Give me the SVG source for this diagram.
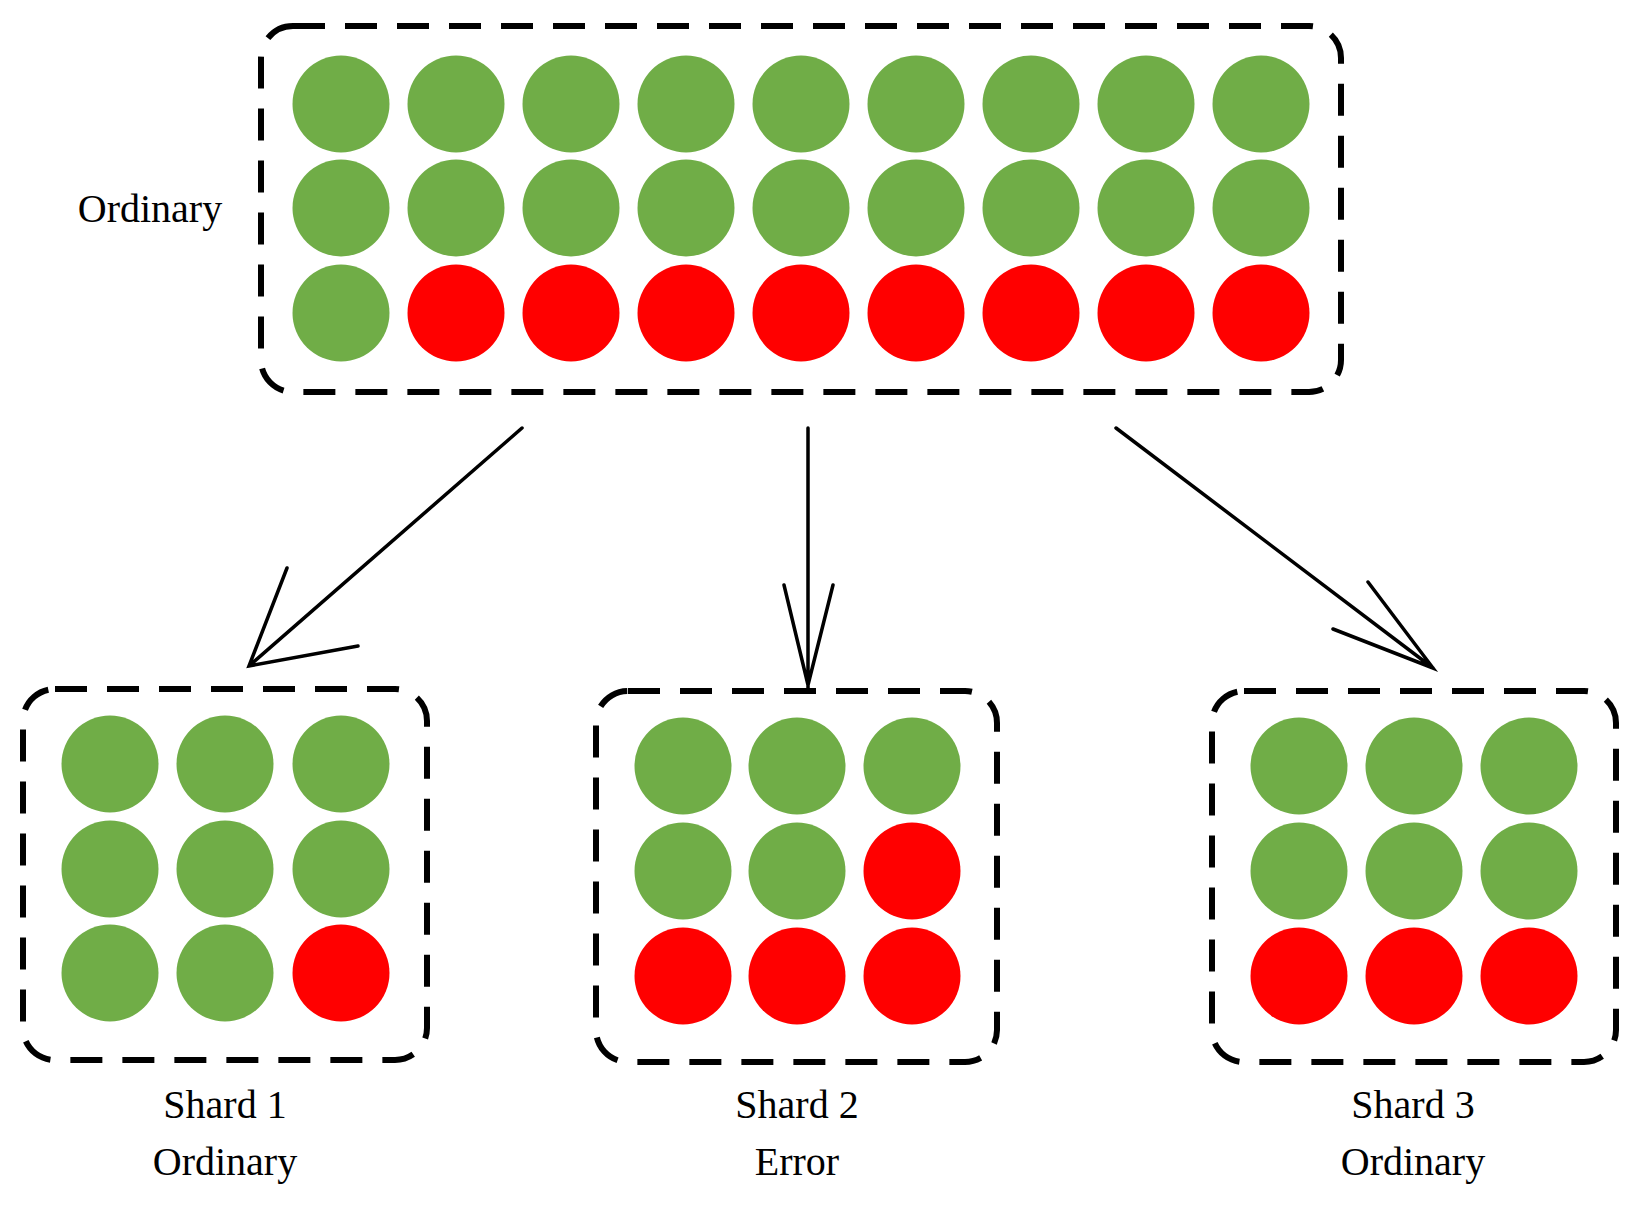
<svg xmlns="http://www.w3.org/2000/svg" width="1641" height="1207" viewBox="0 0 1641 1207">
<style>
.box{fill:none;stroke:#000;stroke-width:6;stroke-dasharray:32 20}
.g{fill:#70AD47}.r{fill:#FF0000}
.t{font-family:"Liberation Serif",serif;font-size:40px;fill:#000;text-anchor:middle}
.c{stroke:#000;stroke-width:3.5;fill:none;stroke-linecap:round}
</style>
<defs>
<circle id="cg" r="48.5" class="g"/>
<circle id="cr" r="48.5" class="r"/>
</defs>
<rect width="1641" height="1207" fill="#fff"/>
<g id="top">
<rect class="box" x="261" y="26" width="1080" height="366" rx="32"/>
<g id="toprow1">
<use href="#cg" x="341" y="104"/><use href="#cg" x="456" y="104"/><use href="#cg" x="571" y="104"/><use href="#cg" x="686" y="104"/><use href="#cg" x="801" y="104"/><use href="#cg" x="916" y="104"/><use href="#cg" x="1031" y="104"/><use href="#cg" x="1146" y="104"/><use href="#cg" x="1261" y="104"/>
<use href="#cg" x="341" y="208"/><use href="#cg" x="456" y="208"/><use href="#cg" x="571" y="208"/><use href="#cg" x="686" y="208"/><use href="#cg" x="801" y="208"/><use href="#cg" x="916" y="208"/><use href="#cg" x="1031" y="208"/><use href="#cg" x="1146" y="208"/><use href="#cg" x="1261" y="208"/>
<use href="#cg" x="341" y="313"/><use href="#cr" x="456" y="313"/><use href="#cr" x="571" y="313"/><use href="#cr" x="686" y="313"/><use href="#cr" x="801" y="313"/><use href="#cr" x="916" y="313"/><use href="#cr" x="1031" y="313"/><use href="#cr" x="1146" y="313"/><use href="#cr" x="1261" y="313"/>
</g>
<text class="t" x="150" y="222">Ordinary</text>
</g>
<g id="connectors">
<path class="c" d="M522 428 L249 666 M287 568 L249 666 L358 646"/>
<path class="c" d="M808 428 L808 689 M784 585 L808 685 L833 585"/>
<path class="c" d="M1116 428 L1433 668 M1368 582 L1433 668 L1333 629"/>
</g>
<g id="shard1">
<rect class="box" x="23" y="689" width="404" height="371" rx="32"/>
<use href="#cg" x="110" y="764"/><use href="#cg" x="225" y="764"/><use href="#cg" x="341" y="764"/>
<use href="#cg" x="110" y="869"/><use href="#cg" x="225" y="869"/><use href="#cg" x="341" y="869"/>
<use href="#cg" x="110" y="973"/><use href="#cg" x="225" y="973"/><use href="#cr" x="341" y="973"/>
<text class="t" x="225" y="1118">Shard 1</text><text class="t" x="225" y="1175">Ordinary</text>
</g>
<g id="shard2">
<rect class="box" x="596" y="691" width="401" height="371" rx="32"/>
<use href="#cg" x="683" y="766"/><use href="#cg" x="797" y="766"/><use href="#cg" x="912" y="766"/>
<use href="#cg" x="683" y="871"/><use href="#cg" x="797" y="871"/><use href="#cr" x="912" y="871"/>
<use href="#cr" x="683" y="976"/><use href="#cr" x="797" y="976"/><use href="#cr" x="912" y="976"/>
<text class="t" x="797" y="1118">Shard 2</text><text class="t" x="797" y="1175">Error</text>
</g>
<g id="shard3">
<rect class="box" x="1212" y="691" width="404" height="371" rx="32"/>
<use href="#cg" x="1299" y="766"/><use href="#cg" x="1414" y="766"/><use href="#cg" x="1529" y="766"/>
<use href="#cg" x="1299" y="871"/><use href="#cg" x="1414" y="871"/><use href="#cg" x="1529" y="871"/>
<use href="#cr" x="1299" y="976"/><use href="#cr" x="1414" y="976"/><use href="#cr" x="1529" y="976"/>
<text class="t" x="1413" y="1118">Shard 3</text><text class="t" x="1413" y="1175">Ordinary</text>
</g>
</svg>
